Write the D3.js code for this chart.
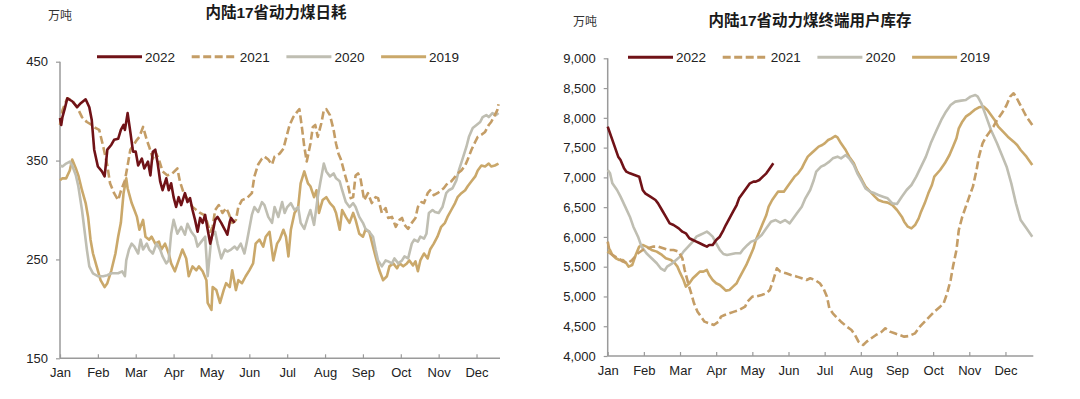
<!doctype html>
<html>
<head>
<meta charset="utf-8">
<script src="https://cdnjs.cloudflare.com/ajax/libs/d3/7.8.5/d3.min.js"></script>
<style>
  body { margin: 0; background: #fff; }
  svg text { font-family: "Liberation Sans", Arial, "Noto Sans CJK SC", sans-serif; }
</style>
</head>
<body>
<svg id="chart" width="1080" height="399"></svg>
<script>
// ---- data (万吨), dates as MM-DD ----
const months = ["Jan","Feb","Mar","Apr","May","Jun","Jul","Aug","Sep","Oct","Nov","Dec"];
const years = ["2022","2021","2020","2019"];

// 内陆17省动力煤日耗
const use2022 = [["01-01",393],["01-02",386],["01-03",394],["01-05",403],["01-07",413],["01-11",410],["01-15",404],["01-18",408],["01-22",412],["01-25",404],["01-27",391],["01-29",361],["02-01",344],["02-04",339],["02-06",334],["02-08",361],["02-11",366],["02-13",371],["02-16",372],["02-18",381],["02-20",386],["02-21",381],["02-23",398],["02-25",379],["02-27",359],["03-01",359],["03-03",345],["03-06",352],["03-08",342],["03-11",349],["03-13",335],["03-15",359],["03-17",361],["03-19",347],["03-21",329],["03-23",320],["03-26",332],["03-28",320],["03-30",327],["04-01",313],["04-03",303],["04-05",313],["04-07",305],["04-10",317],["04-12",308],["04-14",312],["04-16",300],["04-18",290],["04-20",278],["04-22",292],["04-24",287],["04-26",295],["04-28",280],["04-30",266],["05-01",271],["05-04",290],["05-06",293],["05-09",287],["05-12",280],["05-14",275],["05-16",288],["05-17",292],["05-20",287]];
const use2021 = [["01-01",386],["01-03",401],["01-07",413],["01-11",411],["01-15",404],["01-19",394],["01-23",389],["01-27",386],["01-30",383],["02-02",381],["02-05",364],["02-08",345],["02-10",327],["02-13",317],["02-16",310],["02-18",319],["02-21",330],["02-23",345],["02-25",361],["02-28",367],["03-02",371],["03-04",374],["03-07",384],["03-10",371],["03-12",364],["03-15",352],["03-17",359],["03-20",351],["03-23",339],["03-27",335],["03-31",337],["04-04",342],["04-06",329],["04-09",317],["04-11",313],["04-14",307],["04-16",303],["04-19",300],["04-22",297],["04-25",295],["04-27",290],["04-30",278],["05-02",283],["05-04",300],["05-07",305],["05-10",297],["05-13",302],["05-15",297],["05-18",287],["05-21",290],["05-23",303],["05-26",310],["05-30",312],["06-03",317],["06-05",334],["06-08",346],["06-11",352],["06-13",354],["06-16",351],["06-19",346],["06-21",354],["06-25",357],["06-28",362],["06-30",372],["07-03",386],["07-06",394],["07-09",399],["07-11",402],["07-13",384],["07-15",364],["07-17",349],["07-20",367],["07-22",384],["07-24",386],["07-26",374],["07-29",388],["07-31",401],["08-02",402],["08-05",396],["08-08",381],["08-10",367],["08-12",357],["08-14",351],["08-17",337],["08-20",324],["08-22",312],["08-24",313],["08-26",335],["08-28",337],["08-30",332],["09-02",310],["09-05",317],["09-08",307],["09-11",313],["09-13",312],["09-16",297],["09-19",302],["09-21",292],["09-24",293],["09-27",283],["09-30",290],["10-02",292],["10-04",285],["10-07",281],["10-10",287],["10-13",292],["10-15",303],["10-18",308],["10-20",307],["10-23",317],["10-25",320],["10-28",315],["10-31",317],["11-03",320],["11-05",322],["11-08",327],["11-11",329],["11-13",332],["11-16",337],["11-19",340],["11-22",345],["11-24",351],["11-27",361],["11-30",369],["12-02",374],["12-05",376],["12-08",379],["12-11",386],["12-13",389],["12-16",396],["12-18",401],["12-19",407]];
const use2020 = [["01-01",345],["01-03",344],["01-06",347],["01-09",349],["01-11",345],["01-14",335],["01-16",324],["01-19",300],["01-21",280],["01-23",260],["01-25",243],["01-28",236],["02-01",233],["02-05",233],["02-08",234],["02-11",236],["02-16",236],["02-19",238],["02-21",233],["02-22",249],["02-24",260],["02-26",266],["02-28",263],["03-03",256],["03-05",270],["03-07",260],["03-10",266],["03-12",260],["03-15",256],["03-18",266],["03-21",260],["03-23",253],["03-26",246],["03-28",249],["03-30",276],["04-01",290],["04-04",276],["04-07",283],["04-10",275],["04-12",286],["04-15",278],["04-18",273],["04-20",263],["04-23",268],["04-26",273],["04-28",233],["05-01",273],["05-04",278],["05-06",266],["05-09",251],["05-12",260],["05-14",258],["05-17",260],["05-20",263],["05-22",260],["05-25",266],["05-28",256],["05-30",268],["06-03",295],["06-05",303],["06-08",298],["06-11",308],["06-13",305],["06-16",293],["06-19",287],["06-21",303],["06-24",293],["06-27",308],["06-29",297],["07-01",303],["07-04",307],["07-07",300],["07-10",303],["07-12",287],["07-15",281],["07-18",293],["07-20",300],["07-23",285],["07-26",313],["07-28",327],["07-31",347],["08-02",339],["08-05",334],["08-08",337],["08-10",332],["08-13",329],["08-15",320],["08-18",308],["08-21",303],["08-24",307],["08-26",303],["08-29",293],["09-01",287],["09-03",281],["09-06",278],["09-09",273],["09-11",260],["09-13",249],["09-16",243],["09-19",249],["09-21",248],["09-24",246],["09-26",251],["09-29",246],["10-02",249],["10-04",253],["10-07",251],["10-10",266],["10-12",270],["10-15",268],["10-17",273],["10-20",271],["10-22",276],["10-24",297],["10-27",300],["10-29",298],["11-01",297],["11-04",303],["11-07",317],["11-09",320],["11-12",322],["11-15",330],["11-17",340],["11-20",352],["11-23",364],["11-25",374],["11-28",383],["12-01",386],["12-04",389],["12-06",394],["12-09",396],["12-11",394],["12-14",398],["12-17",396],["12-19",398]];
const use2019 = [["01-01",330],["01-03",332],["01-06",332],["01-09",340],["01-11",351],["01-14",342],["01-16",335],["01-19",320],["01-22",307],["01-24",293],["01-26",270],["01-28",256],["01-31",243],["02-03",229],["02-06",222],["02-08",226],["02-11",239],["02-14",256],["02-16",273],["02-18",287],["02-20",317],["02-22",332],["02-23",322],["02-26",307],["02-28",300],["03-02",293],["03-04",280],["03-07",290],["03-09",273],["03-12",270],["03-14",273],["03-17",266],["03-20",268],["03-22",260],["03-25",266],["03-28",256],["03-30",246],["04-02",238],["04-05",249],["04-08",260],["04-11",251],["04-13",233],["04-16",243],["04-19",239],["04-21",243],["04-24",238],["04-27",229],["04-28",206],["05-01",199],["05-02",222],["05-05",219],["05-08",206],["05-11",219],["05-13",226],["05-16",222],["05-18",239],["05-21",219],["05-23",229],["05-26",226],["05-29",233],["06-01",239],["06-04",246],["06-06",266],["06-09",270],["06-12",263],["06-14",273],["06-17",278],["06-20",249],["06-23",266],["06-25",270],["06-28",280],["06-30",273],["07-02",253],["07-04",280],["07-07",297],["07-10",303],["07-12",327],["07-15",339],["07-18",327],["07-20",324],["07-23",313],["07-25",320],["07-27",297],["07-30",310],["08-02",313],["08-05",307],["08-08",303],["08-10",297],["08-13",280],["08-15",300],["08-18",293],["08-21",287],["08-24",297],["08-26",290],["08-29",276],["09-01",273],["09-03",280],["09-06",278],["09-09",263],["09-11",253],["09-14",239],["09-17",229],["09-20",233],["09-22",243],["09-25",246],["09-28",241],["09-30",246],["10-03",243],["10-06",246],["10-08",249],["10-11",244],["10-13",248],["10-15",238],["10-17",249],["10-20",256],["10-23",251],["10-25",260],["10-28",266],["10-31",273],["11-03",283],["11-06",287],["11-08",293],["11-11",300],["11-14",307],["11-16",313],["11-19",317],["11-22",320],["11-24",324],["11-27",329],["11-30",334],["12-02",340],["12-05",345],["12-08",344],["12-11",347],["12-13",344],["12-16",345],["12-19",347]];

// 内陆17省动力煤终端用户库存
const stock2022 = [["01-01",7852],["01-04",7684],["01-07",7516],["01-10",7348],["01-12",7292],["01-15",7152],["01-17",7096],["01-20",7068],["01-24",7040],["01-28",7012],["01-31",6788],["02-02",6732],["02-06",6676],["02-10",6620],["02-12",6564],["02-15",6452],["02-18",6340],["02-21",6228],["02-24",6200],["02-28",6144],["03-03",6088],["03-06",6060],["03-09",5977],["03-12",5949],["03-15",5921],["03-18",5893],["03-21",5865],["03-24",5837],["03-26",5865],["03-29",5865],["04-01",5949],["04-04",6004],["04-07",6116],["04-09",6200],["04-12",6312],["04-15",6424],["04-18",6536],["04-20",6648],["04-23",6732],["04-26",6816],["04-29",6900],["05-02",6928],["05-04",6928],["05-07",6956],["05-10",7012],["05-13",7068],["05-15",7124],["05-19",7236]];
const stock2021 = [["01-01",5921],["01-03",5725],["01-05",5697],["01-10",5641],["01-14",5585],["01-18",5557],["01-22",5613],["01-27",5725],["01-31",5781],["02-04",5809],["02-08",5837],["02-12",5837],["02-16",5809],["02-20",5781],["02-24",5781],["02-28",5753],["03-03",5641],["03-05",5445],["03-08",5221],["03-11",5025],["03-13",4885],["03-16",4745],["03-19",4661],["03-22",4577],["03-26",4549],["03-30",4521],["04-03",4577],["04-05",4661],["04-08",4689],["04-12",4717],["04-16",4745],["04-20",4773],["04-25",4829],["04-27",4913],["05-01",4997],["05-04",4997],["05-09",5025],["05-13",5053],["05-16",5109],["05-19",5277],["05-22",5473],["05-25",5417],["05-30",5389],["06-03",5361],["06-08",5333],["06-12",5305],["06-16",5277],["06-19",5305],["06-23",5277],["06-27",5221],["06-30",5137],["07-03",4997],["07-05",4801],["07-08",4717],["07-12",4633],["07-15",4577],["07-20",4493],["07-24",4437],["07-27",4353],["07-30",4241],["08-03",4185],["08-06",4241],["08-10",4297],["08-14",4353],["08-19",4409],["08-22",4465],["08-26",4409],["08-30",4381],["09-03",4353],["09-07",4325],["09-11",4336],["09-16",4381],["09-20",4493],["09-24",4577],["09-28",4661],["10-02",4745],["10-07",4829],["10-10",4885],["10-13",5053],["10-16",5277],["10-18",5501],["10-21",5781],["10-23",6116],["10-26",6340],["10-29",6508],["11-01",6676],["11-04",6844],["11-07",7124],["11-09",7348],["11-12",7572],["11-15",7684],["11-18",7768],["11-21",7852],["11-24",7964],["11-28",8076],["12-02",8216],["12-05",8356],["12-08",8412],["12-10",8356],["12-13",8244],["12-16",8132],["12-19",8020],["12-24",7880]];
const stock2020 = [["01-01",7124],["01-03",7068],["01-05",6900],["01-09",6788],["01-12",6676],["01-16",6508],["01-20",6340],["01-23",6172],["01-27",6004],["01-30",5837],["02-03",5725],["02-07",5641],["02-11",5557],["02-14",5473],["02-17",5433],["02-19",5501],["02-23",5557],["02-26",5613],["03-01",5669],["03-04",5753],["03-08",5837],["03-12",5921],["03-15",6004],["03-18",6032],["03-21",6060],["03-24",6088],["03-26",6060],["03-29",6004],["04-01",5893],["04-04",5781],["04-07",5713],["04-10",5697],["04-14",5713],["04-17",5725],["04-21",5725],["04-23",5781],["04-27",5865],["04-30",5921],["05-04",5949],["05-09",6032],["05-13",6144],["05-17",6256],["05-21",6284],["05-25",6240],["05-29",6284],["06-02",6228],["06-05",6312],["06-08",6396],["06-12",6508],["06-15",6648],["06-19",6788],["06-22",6956],["06-24",7096],["06-28",7180],["07-01",7208],["07-05",7264],["07-08",7320],["07-12",7348],["07-15",7320],["07-19",7376],["07-22",7320],["07-26",7208],["07-29",7068],["08-02",6928],["08-05",6816],["08-09",6760],["08-13",6732],["08-16",6704],["08-20",6676],["08-24",6648],["08-28",6564],["09-01",6553],["09-05",6676],["09-09",6788],["09-13",6872],["09-17",7012],["09-21",7180],["09-25",7348],["09-29",7572],["10-04",7796],["10-08",7964],["10-12",8104],["10-16",8216],["10-20",8272],["10-25",8289],["10-29",8300],["11-02",8356],["11-06",8384],["11-08",8356],["11-11",8244],["11-15",8020],["11-19",7796],["11-24",7572],["11-28",7376],["12-02",7180],["12-06",6900],["12-10",6564],["12-14",6284],["12-19",6144],["12-24",6004]];
const stock2019 = [["01-01",5725],["01-03",5781],["01-05",5697],["01-08",5641],["01-11",5613],["01-14",5613],["01-17",5557],["01-19",5501],["01-22",5529],["01-25",5697],["01-28",5837],["01-31",5865],["02-03",5837],["02-07",5781],["02-11",5753],["02-15",5697],["02-18",5641],["02-22",5613],["02-25",5557],["02-27",5501],["03-01",5400],["03-04",5277],["03-06",5165],["03-09",5221],["03-12",5305],["03-15",5361],["03-18",5417],["03-21",5417],["03-24",5445],["03-26",5361],["03-29",5277],["04-01",5221],["04-04",5193],["04-07",5137],["04-09",5098],["04-12",5109],["04-15",5165],["04-18",5221],["04-20",5305],["04-23",5417],["04-26",5529],["04-29",5669],["05-02",5809],["05-04",5949],["05-07",6088],["05-10",6228],["05-13",6368],["05-15",6508],["05-18",6620],["05-21",6704],["05-23",6760],["05-25",6760],["05-28",6760],["05-31",6844],["06-03",6928],["06-06",7012],["06-09",7068],["06-12",7152],["06-14",7236],["06-17",7348],["06-20",7404],["06-23",7460],["06-26",7516],["06-29",7544],["07-01",7572],["07-04",7628],["07-07",7656],["07-10",7695],["07-12",7673],["07-15",7572],["07-19",7460],["07-22",7348],["07-26",7236],["07-29",7096],["08-02",6956],["08-05",6844],["08-09",6760],["08-13",6676],["08-16",6620],["08-20",6592],["08-24",6576],["08-28",6536],["09-01",6452],["09-05",6340],["09-07",6256],["09-10",6172],["09-13",6144],["09-16",6200],["09-19",6312],["09-21",6424],["09-24",6564],["09-27",6732],["09-30",6872],["10-02",7012],["10-07",7124],["10-11",7236],["10-15",7376],["10-18",7516],["10-21",7656],["10-23",7824],["10-26",7936],["10-29",8020],["11-02",8076],["11-06",8143],["11-09",8177],["11-13",8188],["11-16",8132],["11-19",8048],["11-22",7964],["11-25",7852],["11-29",7768],["12-03",7684],["12-08",7600],["12-11",7544],["12-14",7460],["12-19",7348],["12-24",7208]];

const useTicks = [150, 250, 350, 450];
const stockTicks = [4000, 4500, 5000, 5500, 6000, 6500, 7000, 7500, 8000, 8500, 9000];

// ---- styles ----
const colors = {"2022": "#701217", "2021": "#c49d66", "2020": "#bfbeb2", "2019": "#caa86a"};
const dashes = {"2021": "8,3.5"};
const axisColor = "#9a9a9a";

const mdays = [31,28,31,30,31,30,31,31,30,31,30,31];
function monthPos(s) {
  const [m, d] = s.split("-").map(Number);
  return m - 1 + (d - 1) / mdays[m - 1];
}

const svg = d3.select("#chart");

function drawPanel(cfg) {
  const x = d3.scaleLinear().domain([0, cfg.xMax]).range([cfg.left, cfg.right]);
  const y = d3.scaleLinear().domain(cfg.yDomain).range([cfg.bottom, cfg.top]);
  const g = svg.append("g");

  // title + unit
  g.append("text").attr("x", cfg.titleX).attr("y", cfg.titleY)
    .attr("text-anchor", "middle").attr("font-size", 15.5).attr("font-weight", "bold")
    .attr("fill", "#1a1a1a").text(cfg.title);
  g.append("text").attr("x", cfg.unitX).attr("y", cfg.unitY)
    .attr("font-size", 12).attr("fill", "#333").text("万吨");

  // y axis
  const ya = g.append("g").attr("transform", `translate(${cfg.left},0)`)
    .call(d3.axisLeft(y).tickValues(cfg.yTicks).tickFormat(cfg.fmt).tickSize(4).tickPadding(8));
  // x axis, ticks point inward
  const xa = g.append("g").attr("transform", `translate(0,${cfg.bottom})`)
    .call(d3.axisBottom(x).tickValues(d3.range(12)).tickFormat(i => months[i]).tickSize(-4).tickPadding(12));
  [ya, xa].forEach(a => {
    a.select(".domain").attr("stroke", axisColor).attr("stroke-width", 1.5);
    a.selectAll(".tick line").attr("stroke", axisColor).attr("stroke-width", 1.2);
    a.selectAll(".tick text").attr("font-size", 13).attr("fill", "#222")
      .attr("font-family", '"Liberation Sans", Arial, sans-serif');
  });
  xa.select(".domain").attr("d", `M${cfg.left},0H${cfg.right}`);
  ya.select(".domain").attr("d", `M0,${cfg.bottom}V${cfg.top}`);
  xa.selectAll(".tick text").attr("dy", "0.55em");

  // lines
  const line = d3.line().x(d => x(monthPos(d[0]))).y(d => y(d[1]));
  ["2019", "2020", "2021", "2022"].forEach(yr => {
    g.append("path").datum(cfg.series[yr])
      .attr("d", line).attr("fill", "none")
      .attr("stroke", colors[yr]).attr("stroke-width", 2.6)
      .attr("stroke-linejoin", "round")
      .attr("stroke-dasharray", dashes[yr] || null);
  });

  // legend
  const lg = g.append("g").attr("transform", `translate(${cfg.legendX},${cfg.legendY})`);
  years.forEach((yr, i) => {
    const it = lg.append("g").attr("transform", `translate(${i * 94.7},0)`);
    it.append("line").attr("x1", 0).attr("x2", 45).attr("y1", 0).attr("y2", 0)
      .attr("stroke", colors[yr]).attr("stroke-width", 3)
      .attr("stroke-dasharray", dashes[yr] || null);
    it.append("text").attr("x", 48).attr("y", 0).attr("dy", "0.36em")
      .attr("font-size", 13.5).attr("fill", "#222").text(yr);
  });
}

drawPanel({
  title: "内陆17省动力煤日耗", titleX: 276, titleY: 18, unitX: 48, unitY: 19.5,
  left: 60, right: 500, xMax: 11.62, top: 61.7, bottom: 358.3,
  yDomain: [150, 450], yTicks: useTicks, fmt: d3.format("d"),
  legendX: 97, legendY: 56.7,
  series: {"2022": use2022, "2021": use2021, "2020": use2020, "2019": use2019}
});

drawPanel({
  title: "内陆17省动力煤终端用户库存", titleX: 810, titleY: 25.5, unitX: 573, unitY: 26,
  left: 607.7, right: 1033.3, xMax: 11.77, top: 58.3, bottom: 356,
  yDomain: [4000, 9000], yTicks: stockTicks, fmt: d3.format(","),
  legendX: 628, legendY: 57.3,
  series: {"2022": stock2022, "2021": stock2021, "2020": stock2020, "2019": stock2019}
});
</script>
</body>
</html>
